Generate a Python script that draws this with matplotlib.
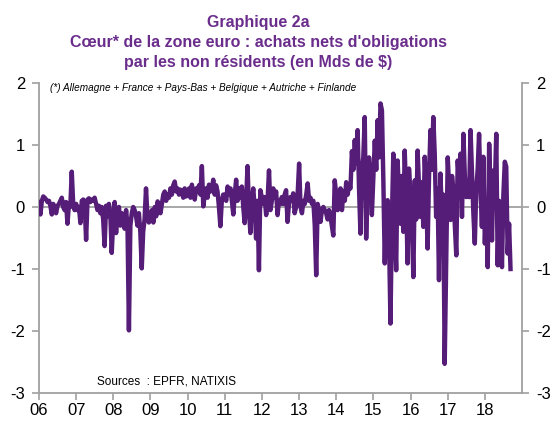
#!/usr/bin/env python3

# Graphique 2a : achats nets d'obligations par les non residents

import matplotlib as mpl
mpl.use("Agg")

import matplotlib.pyplot as plt          # noqa
import matplotlib.dates as mdates        # noqa
import numpy as np                       # noqa
import pandas as pd                      # noqa

plt.rcParams['font.family'] = ['Liberation Sans', 'DejaVu Sans']
plt.rcParams['axes.unicode_minus'] = False

# biweekly values (Mds de $), one list per year
v2006 = [0.08, -0.12, 0.1, 0.17, 0.15, 0.12, 0.08, 0.1, 0.02, -0.12, 0.05, 0.0, -0.1,
         0.02, 0.05, 0.1, 0.15, 0.0, -0.05, 0.08, -0.27, 0.05, 0.0, 0.57, 0.05, -0.05]
v2007 = [0.05, -0.05, 0.0, -0.26, 0.1, 0.12, 0.05, -0.53, 0.12, 0.14, 0.08, 0.12, 0.1,
         0.15, 0.05, -0.05, 0.02, -0.1, 0.0, -0.2, -0.63, 0.02, -0.15, 0.05, -0.1, -0.74]
v2008 = [-0.2, 0.08, -0.42, -0.05, 0.0, -0.3, -0.1, -0.2, -0.35, -0.05, -0.3, -1.99, -0.3,
         -0.1, 0.0, -0.05, -0.15, -0.3, -0.1, -0.4, -0.99, -0.4, -0.2, 0.3, -0.15, -0.25]
v2009 = [-0.2, -0.05, -0.25, 0.0, -0.15, 0.09, 0.0, -0.1, 0.05, 0.2, 0.25, 0.1, 0.2,
         0.15, 0.3, 0.2, 0.35, 0.41, 0.25, 0.3, 0.2, 0.28, 0.25, 0.15, 0.3, 0.17]
v2010 = [0.2, 0.3, 0.15, 0.36, 0.2, 0.12, 0.3, 0.25, 0.35, 0.2, 0.66, 0.01, 0.2,
         0.3, 0.15, 0.36, 0.25, 0.3, 0.44, 0.2, 0.35, 0.25, 0.0, -0.31, 0.1, 0.2]
v2011 = [0.2, 0.1, 0.33, 0.2, 0.3, 0.1, -0.12, 0.2, 0.44, 0.1, 0.3, 0.15, 0.33,
         0.0, -0.26, 0.1, 0.66, -0.05, -0.42, 0.1, 0.3, 0.0, -0.51, 0.1, -1.02, 0.27]
v2012 = [0.15, 0.05, 0.16, -0.13, 0.1, 0.59, -0.05, 0.1, 0.3, 0.15, 0.25, -0.13, 0.1,
         0.05, 0.16, 0.05, 0.2, 0.27, -0.24, 0.05, 0.16, 0.1, 0.22, -0.1, 0.0, 0.15]
v2013 = [0.7, 0.0, -0.1, 0.1, 0.05, 0.2, 0.38, 0.1, 0.15, 0.05, 0.1, -0.3, -1.1,
         0.05, -0.05, -0.24, -0.05, 0.0, -0.05, -0.1, -0.2, -0.05, -0.15, -0.3, -0.46, 0.43]
v2014 = [0.2, -0.05, 0.1, 0.3, -0.05, 0.25, 0.1, 0.4, 0.2, 0.35, 0.3, 0.9, 0.6,
         1.08, 0.7, 1.24, 0.3, -0.43, 0.6, 0.8, 1.45, -0.51, 0.4, 0.8, 0.5, -0.13]
v2015 = [0.5, 1.07, 0.6, 1.4, 0.8, 1.67, 1.56, 0.43, -0.91, 0.0, 0.11, -0.5, -1.88,
         -0.2, 0.86, -0.3, -1.02, 0.75, 0.2, -0.27, 0.5, -0.4, 0.91, 0.2, -0.91, 0.62]
v2016 = [0.2, -0.3, -1.13, 0.43, -0.2, 0.91, 0.3, -0.16, 0.4, -0.32, 0.81, 0.2, -0.67,
         0.5, 1.24, 0.6, 1.45, 0.86, -0.16, 0.3, -1.18, 0.54, -0.1, 0.2, -2.53, -1.0]
v2017 = [0.8, 0.3, -0.21, 0.5, 0.27, -0.3, -0.78, 0.75, 0.4, 0.86, -0.16, 1.18, 0.5,
         0.16, 0.4, 0.16, 1.24, 0.59, -0.1, -0.59, 0.27, 0.6, 1.18, 0.3, -0.32, 0.81]
v2018 = [-0.59, 0.1, -0.97, 1.02, 0.2, -0.54, 0.59, 0.3, 1.18, -0.94, 0.1, -0.32, -0.97,
         0.2, 0.73, 0.65, -0.75, -0.27, -1.0]

years = list(range(2006, 2019))
yearly = [v2006, v2007, v2008, v2009, v2010, v2011, v2012,
          v2013, v2014, v2015, v2016, v2017, v2018]

title1 = 'Graphique 2a'
title2 = "Cœur* de la zone euro : achats nets d'obligations"
title3 = 'par les non résidents (en Mds de $)'
note = '(*) Allemagne + France + Pays-Bas + Belgique + Autriche + Finlande'
source = 'Sources  : EPFR, NATIXIS'

LINE = '#561D78'
TITLE = '#6A2D8C'
GREY = '#A0A0A0'

dates = []
vals = []
for yr, v in zip(years, yearly):
  dates.extend(pd.date_range(start='%d-01-01' % yr, periods=len(v), freq='14D'))
  vals.extend(v)
dates = pd.DatetimeIndex(dates)
vals = np.array(vals)

fig = plt.figure(figsize=(5.52, 4.23), dpi=100)
ax = fig.add_axes([39/552, 1 - 393/423, (522-39)/552, (393-83)/423])

ax.axhline(0, color=GREY, lw=1.3, zorder=1)
ax.plot(dates, vals, color=LINE, lw=3.2, solid_joinstyle='round', zorder=3)

ax.set_ylim(-3, 2)
ax.set_xlim(pd.Timestamp('2006-01-01'), pd.Timestamp('2019-01-01'))
ax.set_yticks([-3, -2, -1, 0, 1, 2])
ax.set_xticks([pd.Timestamp('%d-01-01' % yr) for yr in years])
ax.xaxis.set_major_formatter(mdates.DateFormatter('%y'))

for s in ['left', 'right', 'bottom']:
  ax.spines[s].set_color(GREY)
  ax.spines[s].set_linewidth(1.3)
ax.spines['top'].set_visible(False)

ax.tick_params(axis='y', direction='out', left=True, right=True,
               labelleft=True, labelright=True, length=5, width=1.2,
               color=GREY, labelsize=12, pad=5)
ax.tick_params(axis='x', direction='out', length=5, width=1.2,
               color=GREY, labelsize=12, pad=2)

fig.text(258/552, 1 - 22/423, title1, ha='center', va='center',
         fontsize=11.5, fontweight='bold', color=TITLE)
fig.text(258/552, 1 - 43/423, title2, ha='center', va='center',
         fontsize=11.5, fontweight='bold', color=TITLE)
fig.text(258/552, 1 - 62/423, title3, ha='center', va='center',
         fontsize=11.5, fontweight='bold', color=TITLE)

fig.text(50/552, 1 - 88/423, note, ha='left', va='center',
         fontsize=7.2, style='italic', color='black')
fig.text(97/552, 1 - 381/423, source, ha='left', va='center',
         fontsize=8.5, color='black')

plt.savefig('out.png', dpi=100)
